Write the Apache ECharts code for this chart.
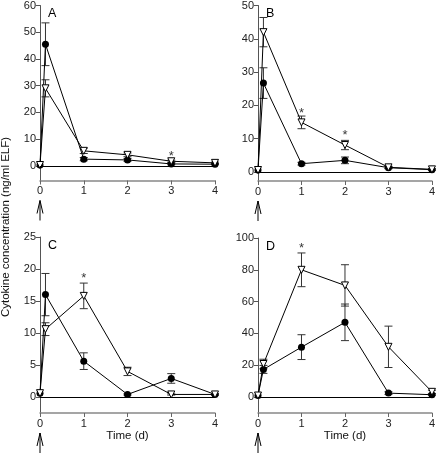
<!DOCTYPE html>
<html><head><meta charset="utf-8">
<script src="https://cdn.jsdelivr.net/npm/echarts@6/dist/echarts.min.js"></script>
<style>html,body{margin:0;padding:0;background:#fff}#c{width:438px;height:453px}</style>
</head><body><div id="c"></div>
<script>
// ---- data ----
const times = [0, 0.125, 1, 2, 3, 4];
const xTicks = [0, 1, 2, 3, 4];
const panelLetters = ['A', 'B', 'C', 'D'];

const aCircle = [0.3, 45.5, 2.5, 2.2, 0.7, 0.6];
const aCircleErr = [0, 8, 0.6, 0.5, 0.3, 0.2];
const aTriangle = [0.3, 29, 5.6, 4.1, 1.7, 1.1];
const aTriangleErr = [0, 3.2, 1.0, 0.7, 0.4, 0.3];
const aStarX = [3], aStarY = [4.8];
const aYTicks = [0, 10, 20, 30, 40, 50, 60];

const bCircle = [0.6, 26.7, 2.5, 3.5, 1.3, 0.7];
const bCircleErr = [0, 4.6, 0.4, 1.0, 0.3, 0.2];
const bTriangle = [0.6, 42, 14.9, 8.1, 1.4, 0.8];
const bTriangleErr = [0, 4.4, 1.9, 1.4, 0.3, 0.2];
const bStarX = [1, 2], bStarY = [18.6, 12];
const bYTicks = [0, 10, 20, 30, 40, 50];

const cCircle = [0.6, 16, 5.6, 0.4, 2.9, 0.4];
const cCircleErr = [0, 3.3, 1.3, 0.1, 0.75, 0.1];
const cTriangle = [0.6, 10.6, 15.8, 4.0, 0.4, 0.4];
const cTriangleErr = [0, 1.0, 2.0, 0.65, 0.1, 0.1];
const cStarX = [1], cStarY = [19];
const cYTicks = [0, 5, 10, 15, 20, 25];

const dCircle = [1, 17.4, 31.4, 47, 2.5, 1.5];
const dCircleErr = [0, 2.5, 7.8, 11.5, 0.8, 0.4];
const dTriangle = [1, 20.8, 80, 70.2, 31.6, 3.3];
const dTriangleErr = [0, 3, 10.6, 13, 13, 1];
const dStarX = [1], dStarY = [95.6];
const dYTicks = [0, 20, 40, 60, 80, 100];

const yMins = [-5.5, -2.7, -2.5, -10];
const yMaxs = [60, 50, 25, 100];
const yTitle = 'Cytokine concentration (ng/ml ELF)';
const xTitle = 'Time (d)';

// ---- build ----
const panels = [
  {c: aCircle, ce: aCircleErr, t: aTriangle, te: aTriangleErr, sx: aStarX, sy: aStarY, yt: aYTicks},
  {c: bCircle, ce: bCircleErr, t: bTriangle, te: bTriangleErr, sx: bStarX, sy: bStarY, yt: bYTicks},
  {c: cCircle, ce: cCircleErr, t: cTriangle, te: cTriangleErr, sx: cStarX, sy: cStarY, yt: cYTicks},
  {c: dCircle, ce: dCircleErr, t: dTriangle, te: dTriangleErr, sx: dStarX, sy: dStarY, yt: dYTicks}
];
const grids = [
  {left: 40, top: 5, width: 175, height: 175.5},
  {left: 258, top: 5, width: 175, height: 176},
  {left: 40, top: 237, width: 175, height: 176},
  {left: 258, top: 238, width: 175, height: 175}
];
const FONT = 'Liberation Sans, Arial, sans-serif';

const xAxes = [], yAxes = [], series = [];
panels.forEach((p, i) => {
  xAxes.push({
    gridIndex: i, type: 'value', min: 0, max: 4, interval: 1,
    axisLine: {onZero: false, lineStyle: {color: '#888', width: 1.5}},
    axisTick: {length: 4, lineStyle: {color: '#666'}},
    axisLabel: {margin: 5, fontSize: 11, color: '#222', fontFamily: FONT},
    splitLine: {show: false},
    name: i >= 2 ? xTitle : '', nameLocation: 'middle', nameGap: 12,
    nameTextStyle: {fontSize: 11.5, color: '#111', fontFamily: FONT}
  });
  yAxes.push({
    gridIndex: i, type: 'value', min: yMins[i], max: yMaxs[i],
    axisLine: {onZero: false, lineStyle: {color: '#555', width: 1}},
    axisTick: {length: 4, customValues: p.yt, lineStyle: {color: '#555'}},
    axisLabel: {margin: 4, fontSize: 11, color: '#222', fontFamily: FONT, customValues: p.yt},
    splitLine: {show: false}
  });
  const errData = (vals, errs) => times.map((x, k) => [x, vals[k] - errs[k], vals[k] + errs[k], errs[k]]);
  const errSeries = (vals, errs) => ({
    type: 'custom', xAxisIndex: i, yAxisIndex: i, z: 1, silent: true,
    data: errData(vals, errs),
    renderItem: function (params, api) {
      if (api.value(3) <= 0) return null;
      const lo = api.coord([api.value(0), api.value(1)]);
      const hi = api.coord([api.value(0), api.value(2)]);
      const w = 4;
      const st = {stroke: '#333', lineWidth: 1};
      return {type: 'group', children: [
        {type: 'line', shape: {x1: lo[0], y1: lo[1], x2: hi[0], y2: hi[1]}, style: st},
        {type: 'line', shape: {x1: lo[0] - w, y1: lo[1], x2: lo[0] + w, y2: lo[1]}, style: st},
        {type: 'line', shape: {x1: hi[0] - w, y1: hi[1], x2: hi[0] + w, y2: hi[1]}, style: st}
      ]};
    }
  });
  series.push(errSeries(p.c, p.ce));
  series.push(errSeries(p.t, p.te));
  series.push({
    type: 'line', xAxisIndex: i, yAxisIndex: i, z: 3,
    data: times.map((x, k) => [x, p.c[k]]),
    symbol: 'circle', symbolSize: 7,
    itemStyle: {color: '#000'}, lineStyle: {color: '#000', width: 1},
    markLine: {silent: true, symbol: 'none', animation: false,
      lineStyle: {color: '#000', width: 1, type: 'solid'}, label: {show: false},
      data: [{yAxis: 0}]}
  });
  series.push({
    type: 'line', xAxisIndex: i, yAxisIndex: i, z: 4,
    data: times.map((x, k) => [x, p.t[k]]),
    symbol: 'triangle', symbolRotate: 180, symbolSize: 7, showAllSymbol: true,
    itemStyle: {color: '#fff', borderColor: '#000', borderWidth: 1},
    lineStyle: {color: '#000', width: 1}
  });
  series.push({
    type: 'scatter', xAxisIndex: i, yAxisIndex: i, z: 5, silent: true,
    data: p.sx.map((x, k) => [x, p.sy[k]]),
    symbolSize: 0,
    label: {show: true, position: 'inside', formatter: '*', fontSize: 13, color: '#000',
      fontFamily: FONT, offset: [0, 3]}
  });
});

const chart = echarts.init(document.getElementById('c'), null, {renderer: 'canvas'});
chart.setOption({
  animation: false,
  grid: grids,
  xAxis: xAxes,
  yAxis: yAxes,
  series: series
});

// annotations: letters, y title, arrows at time 0
const graphics = [];
panels.forEach((p, i) => {
  const topLeft = chart.convertToPixel({gridIndex: i}, [0, yMaxs[i]]);
  const bottom = chart.convertToPixel({gridIndex: i}, [0, yMins[i]]);
  graphics.push({type: 'text', left: topLeft[0] + 8, top: topLeft[1] + 2,
    style: {text: panelLetters[i], fontSize: 12.5, fill: '#000', fontFamily: FONT}});
  const ax = bottom[0], ay = bottom[1] + 20;
  graphics.push({type: 'polyline', shape: {points: [[ax - 3, ay + 13], [ax, ay], [ax + 3, ay + 13]]},
    style: {stroke: '#000', lineWidth: 1, fill: null}});
  graphics.push({type: 'line', shape: {x1: ax, y1: ay, x2: ax, y2: ay + 20},
    style: {stroke: '#000', lineWidth: 1}});
});
graphics.push({type: 'text', x: 6, y: 227, rotation: Math.PI / 2,
  style: {text: yTitle, fontSize: 11.5, fill: '#111', fontFamily: FONT, align: 'center', verticalAlign: 'middle'}});
chart.setOption({graphic: graphics});
</script>
</body></html>
